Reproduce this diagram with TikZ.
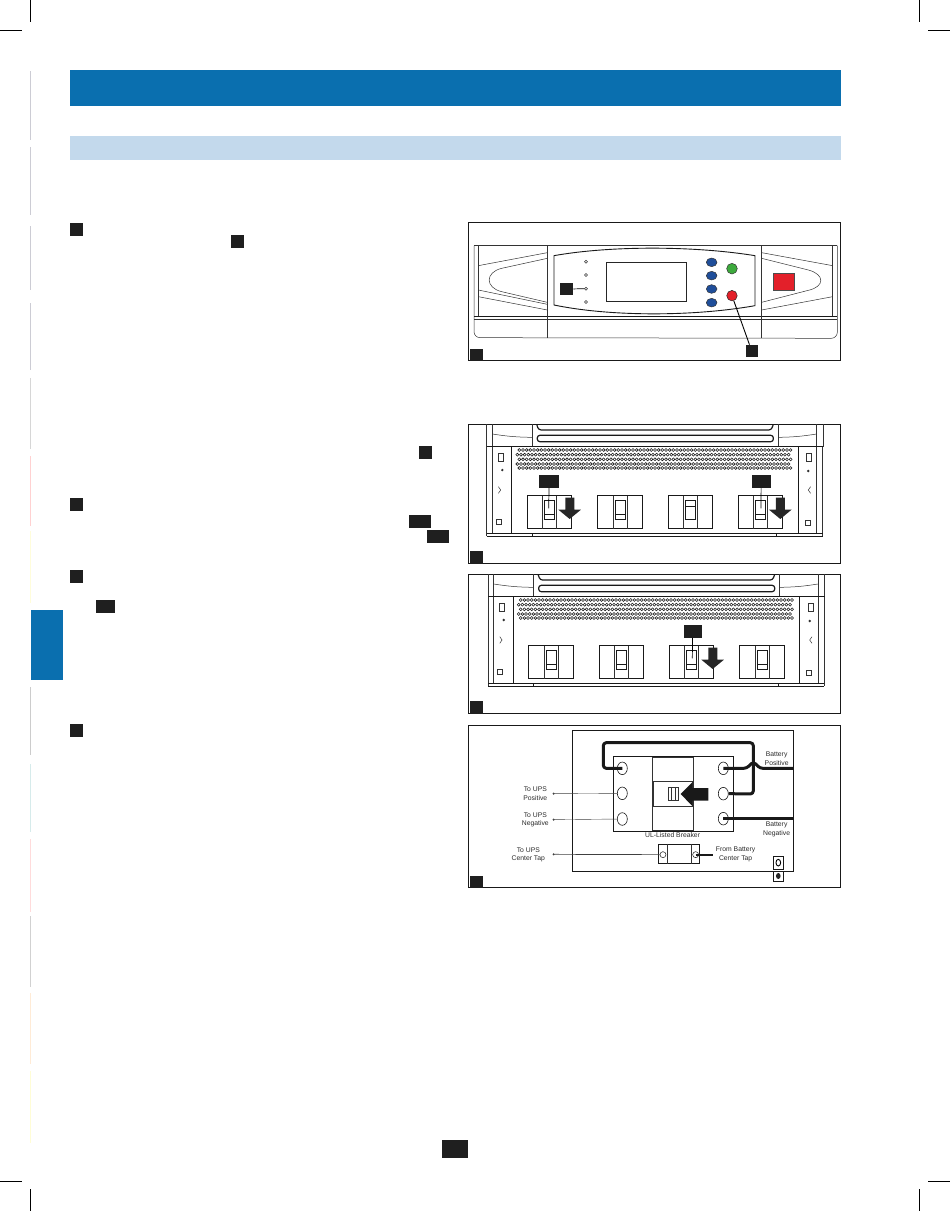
\documentclass[tikz,border=0pt]{standalone}
\usepackage{fontspec}
\setmainfont{Liberation Sans}
\usetikzlibrary{arrows.meta,shapes.geometric}
\definecolor{barblue}{HTML}{0A6FAF}
\definecolor{barlight}{HTML}{C3D9EC}
\definecolor{keyblue}{HTML}{1F4E9A}
\definecolor{keygreen}{HTML}{3DAA3D}
\definecolor{keyred}{HTML}{E3202A}
\definecolor{labelgray}{HTML}{2A2A2A}
\tikzset{
  tag/.style={fill=black!88,draw=none,inner sep=0pt,anchor=north west},
  frame/.style={draw=black!90,line width=0.8pt},
  part/.style={draw=black!80,line width=0.5pt},
  heavy/.style={draw=black!90,line width=0.9pt},
  wire/.style={draw=black!90,line width=3pt,line join=round},
  leader/.style={draw=black,line width=0.7pt},
  thinarrow/.style={draw=black!75,line width=0.4pt,-{Circle[length=2pt]}},
  callout/.style={font=\fontsize{6.8}{8.2}\selectfont,text=labelgray,align=center,inner sep=0pt},
  stud/.style={ellipse,draw=black!90,line width=0.6pt,fill=white,minimum width=10pt,minimum height=12.6pt,inner sep=0pt},
}
% one breaker in a rack panel: #1 left edge, #2 top, 1 when the switch is on
\newcommand{\breakerbox}[3]{
  \draw[heavy] (#1,#2) rectangle +(133,99);
  \draw[part] (#1+46,#2) -- +(0,99) (#1+88,#2) -- +(0,99);
  \draw[heavy] (#1+52,#2+13) rectangle +(30,58);
  \ifnum#3=1 \draw[heavy] (#1+52,#2+31) -- +(30,0);
  \else \draw[heavy] (#1+52,#2+55) -- +(30,0); \fi
}
% the black down arrow next to a breaker
\newcommand{\pusharrow}[1]{
  \fill[black!85] (#1-13,233) -- (#1+14,233) -- (#1+14,269) -- (#1+34,269) -- (#1,297) -- (#1-34,269) -- (#1-13,269) -- cycle;
}
% front of the rack, same for panels 2 and 3
\newcommand{\rackfront}{
  \draw[part] (80,13) -- (80,80) (97,13) -- (97,80) (216,13) -- (216,80) (955,13) -- (955,80) (1070,13) -- (1070,80) (1090,13) -- (1090,80);
  \draw[part] (97,42) to[bend right=4] (216,52) (955,52) to[bend right=4] (1070,42);
  \draw[line width=1.2pt,black!90,rounded corners=2.5pt] (230,13) -- (236,30) -- (934,30) -- (940,13);
  \draw[line width=1.2pt,black!90,rounded corners=2.5pt] (232,46) rectangle (940,65);
  \draw[heavy] (80,80) -- (1090,80);
  \draw[part] (80,80) -- (80,348) (97,80) -- (97,340) (1070,80) -- (1070,340) (1088,80) -- (1088,348);
  \draw[heavy] (155,80) -- (155,340) (1015,80) -- (1015,340);
  \draw[heavy] (80,340) -- (1088,340);
  \draw[heavy] (80,348) -- (217,348) -- (217,340) (950,340) -- (950,348) -- (1088,348) (217,348) -- (950,348);
  \foreach \rowy/\rowx in {90/178,104/172,118/178,132/172,144/178}
    \foreach \i in {0,...,74}
      \draw[black!90,line width=0.55pt] (\rowx+\i*11,\rowy) circle[radius=4.4];
  \draw[part] (115,100) rectangle (130,125) (108,298) rectangle (123,312) (1040,100) rectangle (1055,125) (1035,300) rectangle (1050,315);
  \fill[black!80] (127,150) circle[radius=4] (1045,153) circle[radius=4];
  \draw[part] (115,200) -- (122,210) -- (115,220) (1052,200) -- (1045,210) -- (1052,220);
}
\begin{document}
\begin{tikzpicture}[x=1pt,y=-1pt]
\useasboundingbox (0,0) rectangle (950,1211);
% crop marks
\draw[black,line width=0.6pt] (30,0) -- (30,22) (0,30) -- (22,30) (919,0) -- (919,22) (928,30) -- (950,30);
\draw[black,line width=0.6pt] (30,1189) -- (30,1211) (0,1181) -- (22,1181) (919,1189) -- (919,1211) (928,1181) -- (950,1181);
% margin strip
\foreach \ya/\yb/\tint in {71/140/blue!16!black!20,147/215/blue!16!black!20,226/290/blue!16!black!20,303/370/blue!16!black!20,378/449/black!16,456/526/red!18,531/603/yellow!14,687/755/black!20,764/832/teal!16,839/912/red!14,916/987/black!18,993/1064/orange!16,1071/1143/yellow!16}
  \draw[\tint,line width=0.9pt] (30.5,\ya) -- (30.5,\yb);
\fill[barblue] (31,610) rectangle (63,680);
% header bars
\fill[barblue] (69.5,69.5) rectangle (841,106);
\fill[barlight] (69.5,136) rectangle (841,159.5);
% step tags in the text column
\node[tag,minimum width=13pt,minimum height=13pt] (stepone) at (69.5,222.7) {};
\node[tag,minimum width=13pt,minimum height=13pt] (refone) at (230.7,234.7) {};
\node[tag,minimum width=13pt,minimum height=13pt] (reftwo) at (418.7,445.3) {};
\node[tag,minimum width=13pt,minimum height=13pt] (steptwo) at (69.5,498) {};
\node[tag,minimum width=22pt,minimum height=13pt] (refthree) at (409,514.7) {};
\node[tag,minimum width=22pt,minimum height=13pt] (reffour) at (426.3,530) {};
\node[tag,minimum width=13pt,minimum height=13pt] (stepthree) at (69.5,569.7) {};
\node[tag,minimum width=19pt,minimum height=13pt] (reffive) at (96,599.7) {};
\node[tag,minimum width=13pt,minimum height=13pt] (stepfour) at (69.5,724) {};
\node[tag,minimum width=26pt,minimum height=18pt] (pageno) at (442,1140) {};
% panel 1, control panel
\begin{scope}[shift={(460,215)},x=0.3333pt,y=-0.3333pt]
\draw[frame] (24,22) rectangle (1142,436);
\draw[part] (42,92) -- (1132,92);
\draw[part,rounded corners=6pt] (42,92) -- (42,368) -- (1132,370) -- (1132,92);
\draw[part] (55,92) -- (55,305) (1118,92) -- (1118,305);
\draw[heavy] (42,305) -- (1132,305);
\draw[part] (42,312) -- (1132,312);
\draw[part] (262,92) -- (262,370) (903,92) -- (903,370);
\draw[heavy] (282,122) .. controls (450,92) and (700,92) .. (885,122) -- (885,272) .. controls (700,305) and (450,305) .. (282,270) -- cycle;
\draw[part] (55,152) -- (262,113) (55,225) -- (262,268) (55,245) -- (262,285);
\draw[part] (262,130) -- (125,160) .. controls (75,172) and (75,218) .. (125,230) -- (262,262);
\draw[part] (1118,152) -- (905,113) (1118,245) -- (905,285);
\draw[part] (905,130) -- (1045,165) .. controls (1095,178) and (1095,215) .. (1045,226) -- (905,262);
\draw[line width=1.5pt,black!85] (440,143) rectangle (680,260);
\foreach \ledy in {140,180,221,261}
  \draw[part,fill=white] (378,\ledy) circle[radius=4.5];
\foreach \keyy in {142,182,222,263}
  \draw[part,fill=keyblue] (755,\keyy) ellipse[x radius=16,y radius=13];
\draw[part,fill=keygreen] (816,161) circle[radius=16];
\node[circle,fill=keyred,draw=black!85,line width=0.5pt,minimum size=10.5pt,inner sep=0pt] (redkey) at (816,242) {};
\fill[keyred,draw=black!70] (941,175) rectangle (1004,225);
\coordinate (ledthree) at (373,221);
\node[tag,minimum width=13pt,minimum height=12.5pt] (ledtag) at (300,203) {};
\node[tag,minimum width=12.5pt,minimum height=12.3pt] (redtag) at (856,389) {};
\node[tag,minimum width=13pt,minimum height=12.3pt] (figone) at (30,400) {};
\draw[leader] (ledtag) -- (ledthree);
\draw[leader,line width=0.9pt] (redtag) -- (redkey);
\end{scope}
% panel 2, two breakers off
\begin{scope}[shift={(460,420)},x=0.3333pt,y=-0.3333pt]
\draw[frame] (24,13) rectangle (1142,430);
\rackfront
\breakerbox{202}{227}{0}
\breakerbox{413}{227}{0}
\breakerbox{624}{227}{1}
\breakerbox{835}{227}{0}
\pusharrow{329}
\pusharrow{961}
\node[tag,minimum width=20pt,minimum height=12.5pt] (lefttag) at (237,165) {};
\node[tag,minimum width=18.7pt,minimum height=12.5pt] (righttag) at (875,165) {};
\coordinate (leftswitch) at (266,265);
\coordinate (rightswitch) at (903,265);
\node[tag,minimum width=13pt,minimum height=12.5pt] (figtwo) at (30,393) {};
\draw[leader] (lefttag) -- (leftswitch);
\draw[leader] (righttag) -- (rightswitch);
\end{scope}
% panel 3, center breaker off
\begin{scope}[shift={(460,570)},x=0.3333pt,y=-0.3333pt]
\draw[frame] (24,13) rectangle (1142,430);
\begin{scope}[xshift=1.4pt]
\rackfront
\end{scope}
\breakerbox{206}{227}{0}
\breakerbox{417}{227}{0}
\breakerbox{628}{227}{0}
\breakerbox{839}{227}{0}
\pusharrow{758}
\node[tag,minimum width=18.3pt,minimum height=12.5pt] (midtag) at (670,165) {};
\coordinate (midswitch) at (697,265);
\node[tag,minimum width=13pt,minimum height=12.5pt] (figthree) at (30,393) {};
\draw[leader] (midtag) -- (midswitch);
\end{scope}
% panel 4, wiring of the breaker
\begin{scope}[shift={(460,720)},x=0.3333pt,y=-0.3333pt]
\draw[frame] (24,15) rectangle (1142,502);
\draw[frame] (338,31) rectangle (1000,455);
\draw[heavy] (460,109) rectangle (821,334);
\draw[part] (577,112) rectangle (700,332);
\draw[part] (580,184) rectangle (697,260);
\draw[part] (625,203) rectangle (655,241) (635,203) -- (635,241) (645,203) -- (645,241);
\fill[black!90] (745,204) -- (697,204) -- (697,187) -- (662,222) -- (697,258) -- (697,242) -- (745,242) -- cycle;
\node[stud] (inone) at (487,145) {};
\node[stud] (intwo) at (487,220) {};
\node[stud] (inthree) at (487,297) {};
\node[stud] (outone) at (790,145) {};
\node[stud] (outtwo) at (790,221) {};
\node[stud] (outthree) at (790,296) {};
\draw[wire,rounded corners=3pt] (inone.center) -- (430,145) -- (430,68) -- (880,68) -- (880,222) -- (outtwo.east);
\draw[wire,rounded corners=3pt] (outone.center) -- (860,145) -- (880,125) -- (900,145) -- (1000,145);
\draw[wire,line width=2.5pt] (outthree.center) -- (1000,296);
\node[callout] (toupspos) at (226,221) {To UPS\\Positive};
\node[callout] (toupsneg) at (226,300) {To UPS\\Negative};
\node[callout] (toupstap) at (205,404) {To UPS\\Center Tap};
\node[callout] (frombatt) at (827,403) {From Battery\\Center Tap};
\node[callout] (breakername) at (638,344) {UL-Listed Breaker};
\node[callout] (battpos) at (950,116) {Battery\\Positive};
\node[callout] (battneg) at (950,328) {Battery\\Negative};
\coordinate (posend) at (278,221);
\coordinate (negend) at (278,299);
\coordinate (tapend) at (278,403);
\draw[thinarrow] (intwo) -- (posend);
\draw[thinarrow] (inthree) -- (negend);
\draw[heavy] (595,372) rectangle (719,431);
\draw[part] (622,372) -- (622,431) (693,372) -- (693,431);
\node[circle,draw=black!90,line width=0.5pt,minimum size=6pt,inner sep=0pt] (tapin) at (609,404) {};
\node[circle,draw=black!90,line width=0.5pt,minimum size=6pt,inner sep=0pt] (tapout) at (707,404) {};
\coordinate (tapwire) at (758,404);
\draw[thinarrow,line width=0.7pt] (tapin) -- (tapend);
\draw[wire,line width=2.2pt] (tapout.center) -- (tapwire);
\draw[heavy] (941,408) rectangle (970,447) (941,455) rectangle (970,485);
\draw[line width=0.9pt] (955,428) ellipse[x radius=7,y radius=10];
\fill[black!85] (955,468) ellipse[x radius=7,y radius=9];
\node[tag,minimum width=13pt,minimum height=11.7pt] (figfour) at (30,467) {};
\end{scope}
\end{tikzpicture}
\end{document}
